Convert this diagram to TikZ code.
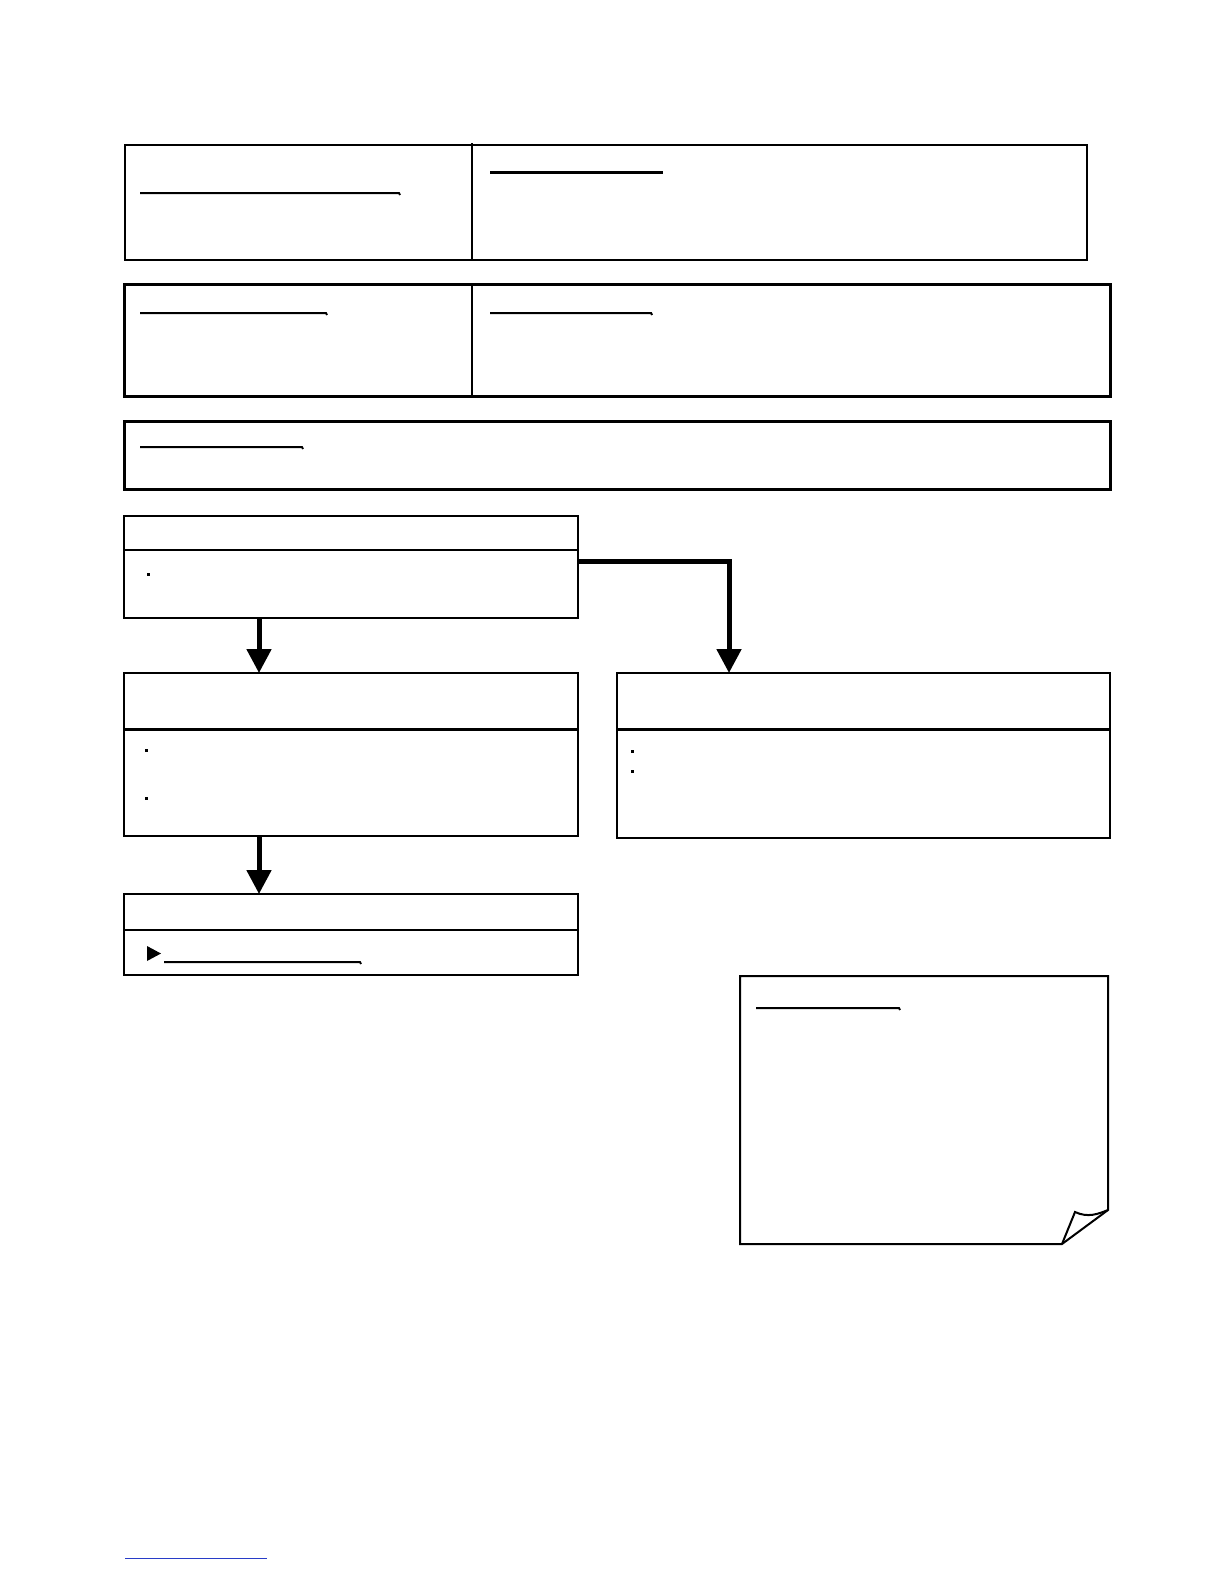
\documentclass[tikz,border=0pt]{standalone}
\usetikzlibrary{arrows.meta}
\tikzset{
  panel/.style={draw, line width=1pt, rectangle, inner sep=0pt, outer sep=0pt, anchor=north west},
  rule/.style={line width=1pt},
  flow/.style={line width=2.5pt, -{Triangle[width=12pt,length=12pt]}},
}
\begin{document}
\begin{tikzpicture}[x=0.5pt,y=0.5pt,yscale=-1,xscale=1]
\useasboundingbox (0,0) rectangle (1224,1584);

%Shape: Rectangle [top row]
\node[panel, minimum width=481pt, minimum height=57.5pt] (head) at (125,145) {};
\draw [rule] (472,143) -- (472,260) ;
%Straight Lines
\draw [line width=1pt]    (140,193) -- (399,193) -- ++(1,2) ;
\draw [line width=1.5pt]    (490,172) -- (663,172) ;

%Shape: Rectangle [second row]
\node[panel, line width=1.5pt, minimum width=493pt, minimum height=56pt] (part) at (124,284) {};
\draw [rule] (472,284) -- (472,396) ;
\draw [line width=1pt]    (140,313) -- (326,313) -- ++(1,2) ;
\draw [line width=1pt]    (490,313) -- (651,313) -- ++(1,2) ;

%Shape: Rectangle [third row]
\node[panel, line width=1.5pt, minimum width=493pt, minimum height=34pt] (intro) at (124,421) {};
\draw [line width=1pt]    (140,447) -- (302,447) -- ++(1,2) ;

%Shape: Rectangle [box a]
\node[panel, minimum width=227pt, minimum height=51pt] (boxa) at (124,516) {};
\draw [rule] (124,550) -- (578,550) ;
\fill (147,573) rectangle ++(2.5,2.5) ;

%Shape: Rectangle [box b]
\node[panel, minimum width=227pt, minimum height=81.5pt] (boxb) at (124,673) {};
\draw [line width=1.5pt] (124,729) -- (578,729) ;
\fill (145,749) rectangle ++(3,3) ;
\fill (145,797) rectangle ++(3,3) ;

%Shape: Rectangle [box c]
\node[panel, minimum width=246.5pt, minimum height=82.5pt] (boxc) at (617,673) {};
\draw [line width=1.5pt] (617,729) -- (1110,729) ;
\fill (631,750) rectangle ++(3,3) ;
\fill (631,770) rectangle ++(3,3) ;

%Shape: Rectangle [box d]
\node[panel, minimum width=227pt, minimum height=40.5pt] (boxd) at (124,894) {};
\draw [rule] (124,930) -- (578,930) ;
\fill (147,946) -- (147,961) -- (161,953.5) -- cycle ;
\draw [line width=1pt]    (164,962) -- (360,962) -- ++(1,2) ;

%Connectors
\coordinate (split) at (729,561) ;
\draw [flow] ([yshift=-3pt]boxa.east) -- (split) -- (split |- boxc.north) ;
\draw [flow] ([xshift=67.5pt]boxa.south west) -- ([xshift=67.5pt]boxb.north west) ;
\draw [flow] ([xshift=67.5pt]boxb.south west) -- ([xshift=67.5pt]boxd.north west) ;

%Shape: Folded corner [note]
\coordinate (note) at (740,976) ;
\draw [line width=1pt] (note) -- (1108,976) -- (1108,1210) -- (1062,1244) -- (740,1244) -- cycle ;
\draw [line width=1pt] (1062,1244) -- (1075,1212) .. controls (1088,1218) and (1098,1214) .. (1108,1210) ;
\draw [line width=1pt]    (756,1008) -- (899,1008) -- ++(1,2) ;

%Straight Lines [footer]
\draw [color={rgb, 255:red, 40; green, 60; blue, 200 }, line width=0.5pt]    (125,1558) -- (267,1558) ;

\end{tikzpicture}
\end{document}
